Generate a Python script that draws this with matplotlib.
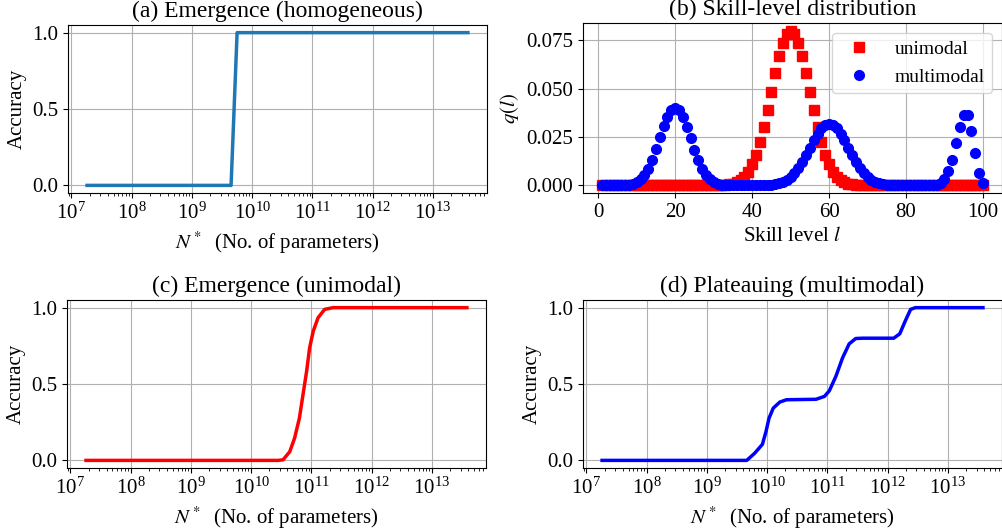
import numpy as np
import matplotlib as mpl
mpl.use('Agg')
import matplotlib.pyplot as plt
from matplotlib.ticker import LogLocator, NullFormatter

plt.rcParams['font.family'] = ['Liberation Serif', 'DejaVu Serif']
plt.rcParams['mathtext.fontset'] = 'stix'

# (a) homogeneous: step
a_logN = [7.26, 9.65, 9.75, 13.58]
a_acc = [0.0, 0.0, 1.0, 1.0]

# (c) unimodal
c_logN = [7.26, 10.45, 10.53, 10.64, 10.72, 10.80, 10.86, 10.92, 10.97, 11.03,
          11.11, 11.22, 11.36, 13.58]
c_acc = [0.0, 0.0, 0.004, 0.057, 0.145, 0.276, 0.43, 0.583, 0.737, 0.846,
         0.934, 0.989, 1.0, 1.0]

# (d) multimodal
d_logN = [7.26, 9.66, 9.79, 9.92, 9.98, 10.03, 10.10, 10.21, 10.32, 10.81,
          10.95, 11.03, 11.14, 11.25, 11.36, 11.47, 11.58, 12.10, 12.20, 12.29,
          12.38, 12.46, 13.58]
d_acc = [0.0, 0.0, 0.046, 0.105, 0.189, 0.276, 0.342, 0.382, 0.397, 0.40,
         0.419, 0.455, 0.551, 0.671, 0.763, 0.798, 0.80, 0.80, 0.829, 0.912,
         0.989, 1.0, 1.0]

# (b) skill-level distributions, l = 1..100
skill = list(range(1, 101))
q_uni = [0.0] * 31 + [0.0001, 0.0002, 0.0005, 0.0009, 0.0016, 0.0027, 0.0045,
                      0.0071, 0.0108, 0.0158, 0.0222, 0.0299, 0.0388, 0.0484,
                      0.0579, 0.0666, 0.0737, 0.0782, 0.0798, 0.0782, 0.0737,
                      0.0666, 0.0579, 0.0484, 0.0388, 0.0299, 0.0222, 0.0158,
                      0.0108, 0.0071, 0.0045, 0.0027, 0.0016, 0.0009, 0.0005,
                      0.0002, 0.0001] + [0.0] * 32
q_multi = [0.0, 0.0, 0.0, 0.0, 0.0, 0.0001, 0.0002, 0.0004, 0.0009, 0.0018,
           0.0032, 0.0054, 0.0086, 0.0130, 0.0190, 0.0252, 0.0305, 0.0355, 0.0387, 0.0399,
           0.0387, 0.0352, 0.0301, 0.0242, 0.0183, 0.0130, 0.0086, 0.0054, 0.0032, 0.0018,
           0.0009, 0.0004, 0.0002, 0.0001, 0.0, 0.0, 0.0, 0.0, 0.0, 0.0,
           0.0, 0.0, 0.0001, 0.0002, 0.0004, 0.0006, 0.0011, 0.0018, 0.0028, 0.0043,
           0.0063, 0.0089, 0.0120, 0.0155, 0.0194, 0.0232, 0.0266, 0.0294, 0.0313, 0.0319,
           0.0313, 0.0294, 0.0266, 0.0232, 0.0194, 0.0155, 0.0120, 0.0089, 0.0063, 0.0043,
           0.0028, 0.0018, 0.0011, 0.0006, 0.0004, 0.0002, 0.0001, 0.0, 0.0, 0.0,
           0.0, 0.0, 0.0, 0.0, 0.0, 0.0, 0.0, 0.0004, 0.0012, 0.0032,
           0.0073, 0.0130, 0.0216, 0.0302, 0.0363, 0.0363, 0.0278, 0.0165, 0.0066, 0.0013]

xlabel = r'$N^*$  (No. of parameters)'
fs = 15
tfs = 17

fig = plt.figure(figsize=(10.03, 5.31), dpi=100)
ax_a = fig.add_axes([0.0678, 0.6365, 0.4177, 0.3164])
ax_b = fig.add_axes([0.5813, 0.6365, 0.4177, 0.3200])
ax_c = fig.add_axes([0.0668, 0.1186, 0.4177, 0.3164])
ax_d = fig.add_axes([0.5813, 0.1186, 0.4177, 0.3164])

for ax, logN, acc, col, title in [
        (ax_a, a_logN, a_acc, '#1f77b4', '(a) Emergence (homogeneous)'),
        (ax_c, c_logN, c_acc, 'red', '(c) Emergence (unimodal)'),
        (ax_d, d_logN, d_acc, 'blue', '(d) Plateauing (multimodal)')]:
    ax.plot(10 ** np.array(logN), acc, color=col, lw=2.5)
    ax.set_xscale('log')
    ax.set_xticks([1e7, 1e8, 1e9, 1e10, 1e11, 1e12, 1e13])
    ax.xaxis.set_minor_locator(LogLocator(base=10, subs=np.arange(2, 10), numticks=100))
    ax.xaxis.set_minor_formatter(NullFormatter())
    ax.set_yticks([0.0, 0.5, 1.0])
    ax.set_xlabel(xlabel, fontsize=fs)
    ax.set_ylabel('Accuracy', fontsize=fs)
    ax.set_title(title, fontsize=tfs)
    ax.tick_params(labelsize=fs)
    ax.grid(True)

ax_b.plot(skill, q_uni, 's', color='red', markersize=7, label='unimodal')
ax_b.plot(skill, q_multi, 'o', color='blue', markersize=7, label='multimodal')
ax_b.set_xticks([0, 20, 40, 60, 80, 100])
ax_b.set_yticks([0.0, 0.025, 0.050, 0.075])
ax_b.set_xlabel(r'Skill level $l$', fontsize=fs)
ax_b.set_ylabel(r'$q(l)$', fontsize=fs)
ax_b.set_title('(b) Skill-level distribution', fontsize=tfs)
ax_b.tick_params(labelsize=fs)
ax_b.grid(True)
ax_b.legend(loc='upper right', fontsize=14, numpoints=1)

plt.savefig('out.png', dpi=100)
